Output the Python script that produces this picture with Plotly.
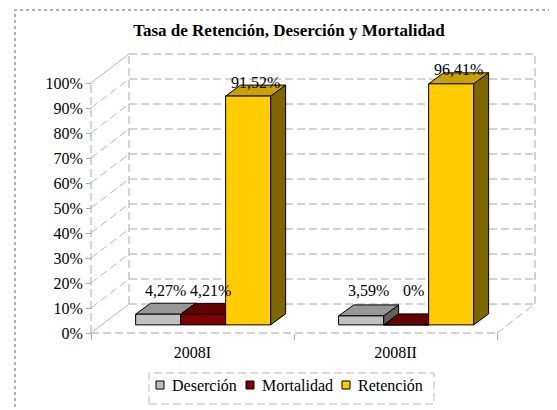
import plotly.graph_objects as go

# ---------------- data ----------------
categories = ["2008I", "2008II"]
series_names = ["Deserción", "Mortalidad", "Retención"]
desercion = [4.27, 3.59]
mortalidad = [4.21, 0.0]
retencion = [91.52, 96.41]
y_tick_values = [0, 10, 20, 30, 40, 50, 60, 70, 80, 90, 100]
y_tick_labels = ["0%", "10%", "20%", "30%", "40%", "50%", "60%", "70%", "80%", "90%", "100%"]
title_text = "Tasa de Retención, Deserción y Mortalidad"

series_values = [desercion, mortalidad, retencion]

# ---------------- styles ----------------
front_colors = ["#C0C0C0", "#800000", "#FFCC00"]
top_colors = ["#979797", "#640000", "#C9A200"]
side_colors = ["#606060", "#400000", "#806600"]
GRID = "#A8A8A8"
FONT = "Liberation Serif, Times New Roman, serif"
FS = 16

# ---------------- geometry (pixel layout) ----------------
W, H = 557, 410
OFF = 8                                   # page body margin offset
PL, PR, PT, PB = 86, 540, 50, 338         # plot area in reference px
ML, MR, MT, MB = PL - OFF, W - (PR - OFF), PT - OFF, H - (PB - OFF)
PX_U, PX_PCT = 203.0, 2.5                 # px per category unit, px per percent
X0_PX, Y0_PX = 91, 333                    # reference px of (u=0, 0%) on front plane
PW, PH = PR - PL, PB - PT
x_range = [(PL - X0_PX) / PX_U, (PR - X0_PX) / PX_U]
y_range = [(Y0_PX - PB) / PX_PCT, (Y0_PX - PT) / PX_PCT]

DX, DY = 38 / PX_U, 29 / PX_PCT           # full depth offset of the walls
BAR_W = 45 / PX_U
BDX, BDY = 15 / PX_U, 11 / PX_PCT         # depth of each bar
BAR_D = 0.28                              # depth fraction of bar front face
FX, FY = BAR_D * DX, BAR_D * DY
NCAT = len(categories)


def px_x(px):
    return (px - PL) / PW


def px_y(py):
    return (PB - py) / PH


fig = go.Figure()

# ---------------- 3D bars ----------------
for c in range(NCAT):
    for i, vals in enumerate(series_values):
        v = vals[c]
        x0 = c + 0.5 + FX + (i - 1.5) * BAR_W
        x1 = x0 + BAR_W
        b = FY
        t = FY + v
        fig.add_trace(go.Scatter(
            x=[x1, x1 + BDX, x1 + BDX, x1, x1], y=[b, b + BDY, t + BDY, t, b],
            mode="lines", fill="toself", fillcolor=side_colors[i],
            line=dict(color="#000", width=1), hoverinfo="skip", showlegend=False))
        fig.add_trace(go.Scatter(
            x=[x0, x1, x1 + BDX, x0 + BDX, x0], y=[t, t, t + BDY, t + BDY, t],
            mode="lines", fill="toself", fillcolor=top_colors[i],
            line=dict(color="#000", width=1), hoverinfo="skip", showlegend=False))
        fig.add_trace(go.Scatter(
            x=[x0, x1, x1, x0, x0], y=[b, b, t, t, b],
            mode="lines", fill="toself", fillcolor=front_colors[i],
            line=dict(color="#000", width=1), name=series_names[i],
            showlegend=False))
        txt = ("%.2f" % v).replace(".", ",") + "%" if v else "0%"
        fig.add_annotation(
            x=(x0 + x1) / 2 + BDX / 2, y=max(t + BDY + 1.2, 17.0),
            text=txt, showarrow=False, xanchor="center", yanchor="middle",
            font=dict(family=FONT, size=FS, color="#000"))

# ---------------- walls / grid ----------------
shapes = []
dash = "8px,4px"
for v in y_tick_values:
    shapes.append(dict(type="line", xref="x", yref="y", x0=DX, x1=NCAT + DX,
                       y0=v + DY, y1=v + DY, layer="below",
                       line=dict(color=GRID, width=1, dash=dash)))
    solid = v in (y_tick_values[0], y_tick_values[-1])
    shapes.append(dict(type="line", xref="x", yref="y", x0=0, x1=DX,
                       y0=v, y1=v + DY, layer="below",
                       line=dict(color="#B8B8B8", width=1, dash="solid" if solid else dash)))
for xv in (DX, NCAT + DX):
    shapes.append(dict(type="line", xref="x", yref="y", x0=xv, x1=xv,
                       y0=DY, y1=y_tick_values[-1] + DY, layer="below",
                       line=dict(color=GRID, width=1, dash=dash)))
shapes.append(dict(type="line", xref="x", yref="y", x0=0, x1=0,
                   y0=0, y1=y_tick_values[-1], layer="below",
                   line=dict(color=GRID, width=1, dash=dash)))
shapes.append(dict(type="line", xref="x", yref="y", x0=0, x1=NCAT, y0=0, y1=0,
                   layer="below", line=dict(color=GRID, width=1, dash=dash)))
shapes.append(dict(type="line", xref="x", yref="y", x0=NCAT, x1=NCAT + DX, y0=0, y1=DY,
                   layer="below", line=dict(color="#B8B8B8", width=1, dash=dash)))

# outer dotted chart border
shapes.append(dict(type="rect", xref="paper", yref="paper",
                   x0=px_x(15), x1=px_x(620), y0=px_y(470), y1=px_y(10),
                   line=dict(color="#B0B0B0", width=2, dash="dot")))

# ---------------- legend (manual) ----------------
shapes.append(dict(type="rect", xref="paper", yref="paper",
                   x0=px_x(149), x1=px_x(434), y0=px_y(404), y1=px_y(373),
                   line=dict(color="#B8B8B8", width=1, dash=dash)))
legend_square_px = [156, 246, 342]
for i, name in enumerate(series_names):
    sx = legend_square_px[i]
    shapes.append(dict(type="rect", xref="paper", yref="paper",
                       x0=px_x(sx), x1=px_x(sx + 8), y0=px_y(389), y1=px_y(381),
                       fillcolor=front_colors[i], line=dict(color="#000", width=1)))
    fig.add_annotation(xref="paper", yref="paper", x=px_x(sx + 14), y=px_y(385),
                       text=name, showarrow=False, xanchor="left", yanchor="middle",
                       font=dict(family=FONT, size=FS, color="#000"))

fig.update_layout(
    width=W, height=H,
    margin=dict(l=ML, r=MR, t=MT, b=MB),
    paper_bgcolor="white", plot_bgcolor="white",
    showlegend=False,
    shapes=shapes,
    title=dict(text="<b>" + title_text + "</b>", x=(289 - OFF) / W, xanchor="center",
               y=1 - (30 - OFF) / H, yanchor="middle", xref="container", yref="container",
               font=dict(family=FONT, size=17, color="#000")),
    xaxis=dict(range=x_range, anchor="free", position=px_y(Y0_PX),
               tickmode="array", tickvals=[c + 0.5 for c in range(NCAT)],
               ticktext=categories, ticks="", showgrid=False, zeroline=False,
               showline=False, ticklabelstandoff=8,
               tickfont=dict(family=FONT, size=FS, color="#000"),
               minor=dict(tickmode="array", tickvals=list(range(NCAT + 1)),
                          ticks="outside", ticklen=6, tickcolor=GRID, showgrid=False)),
    yaxis=dict(range=y_range, anchor="free", position=px_x(X0_PX),
               tickmode="array", tickvals=y_tick_values, ticktext=y_tick_labels,
               ticks="outside", ticklen=5, tickcolor=GRID, showgrid=False,
               zeroline=False, showline=False,
               tickfont=dict(family=FONT, size=FS, color="#000")),
)

fig.write_html("out.html")
